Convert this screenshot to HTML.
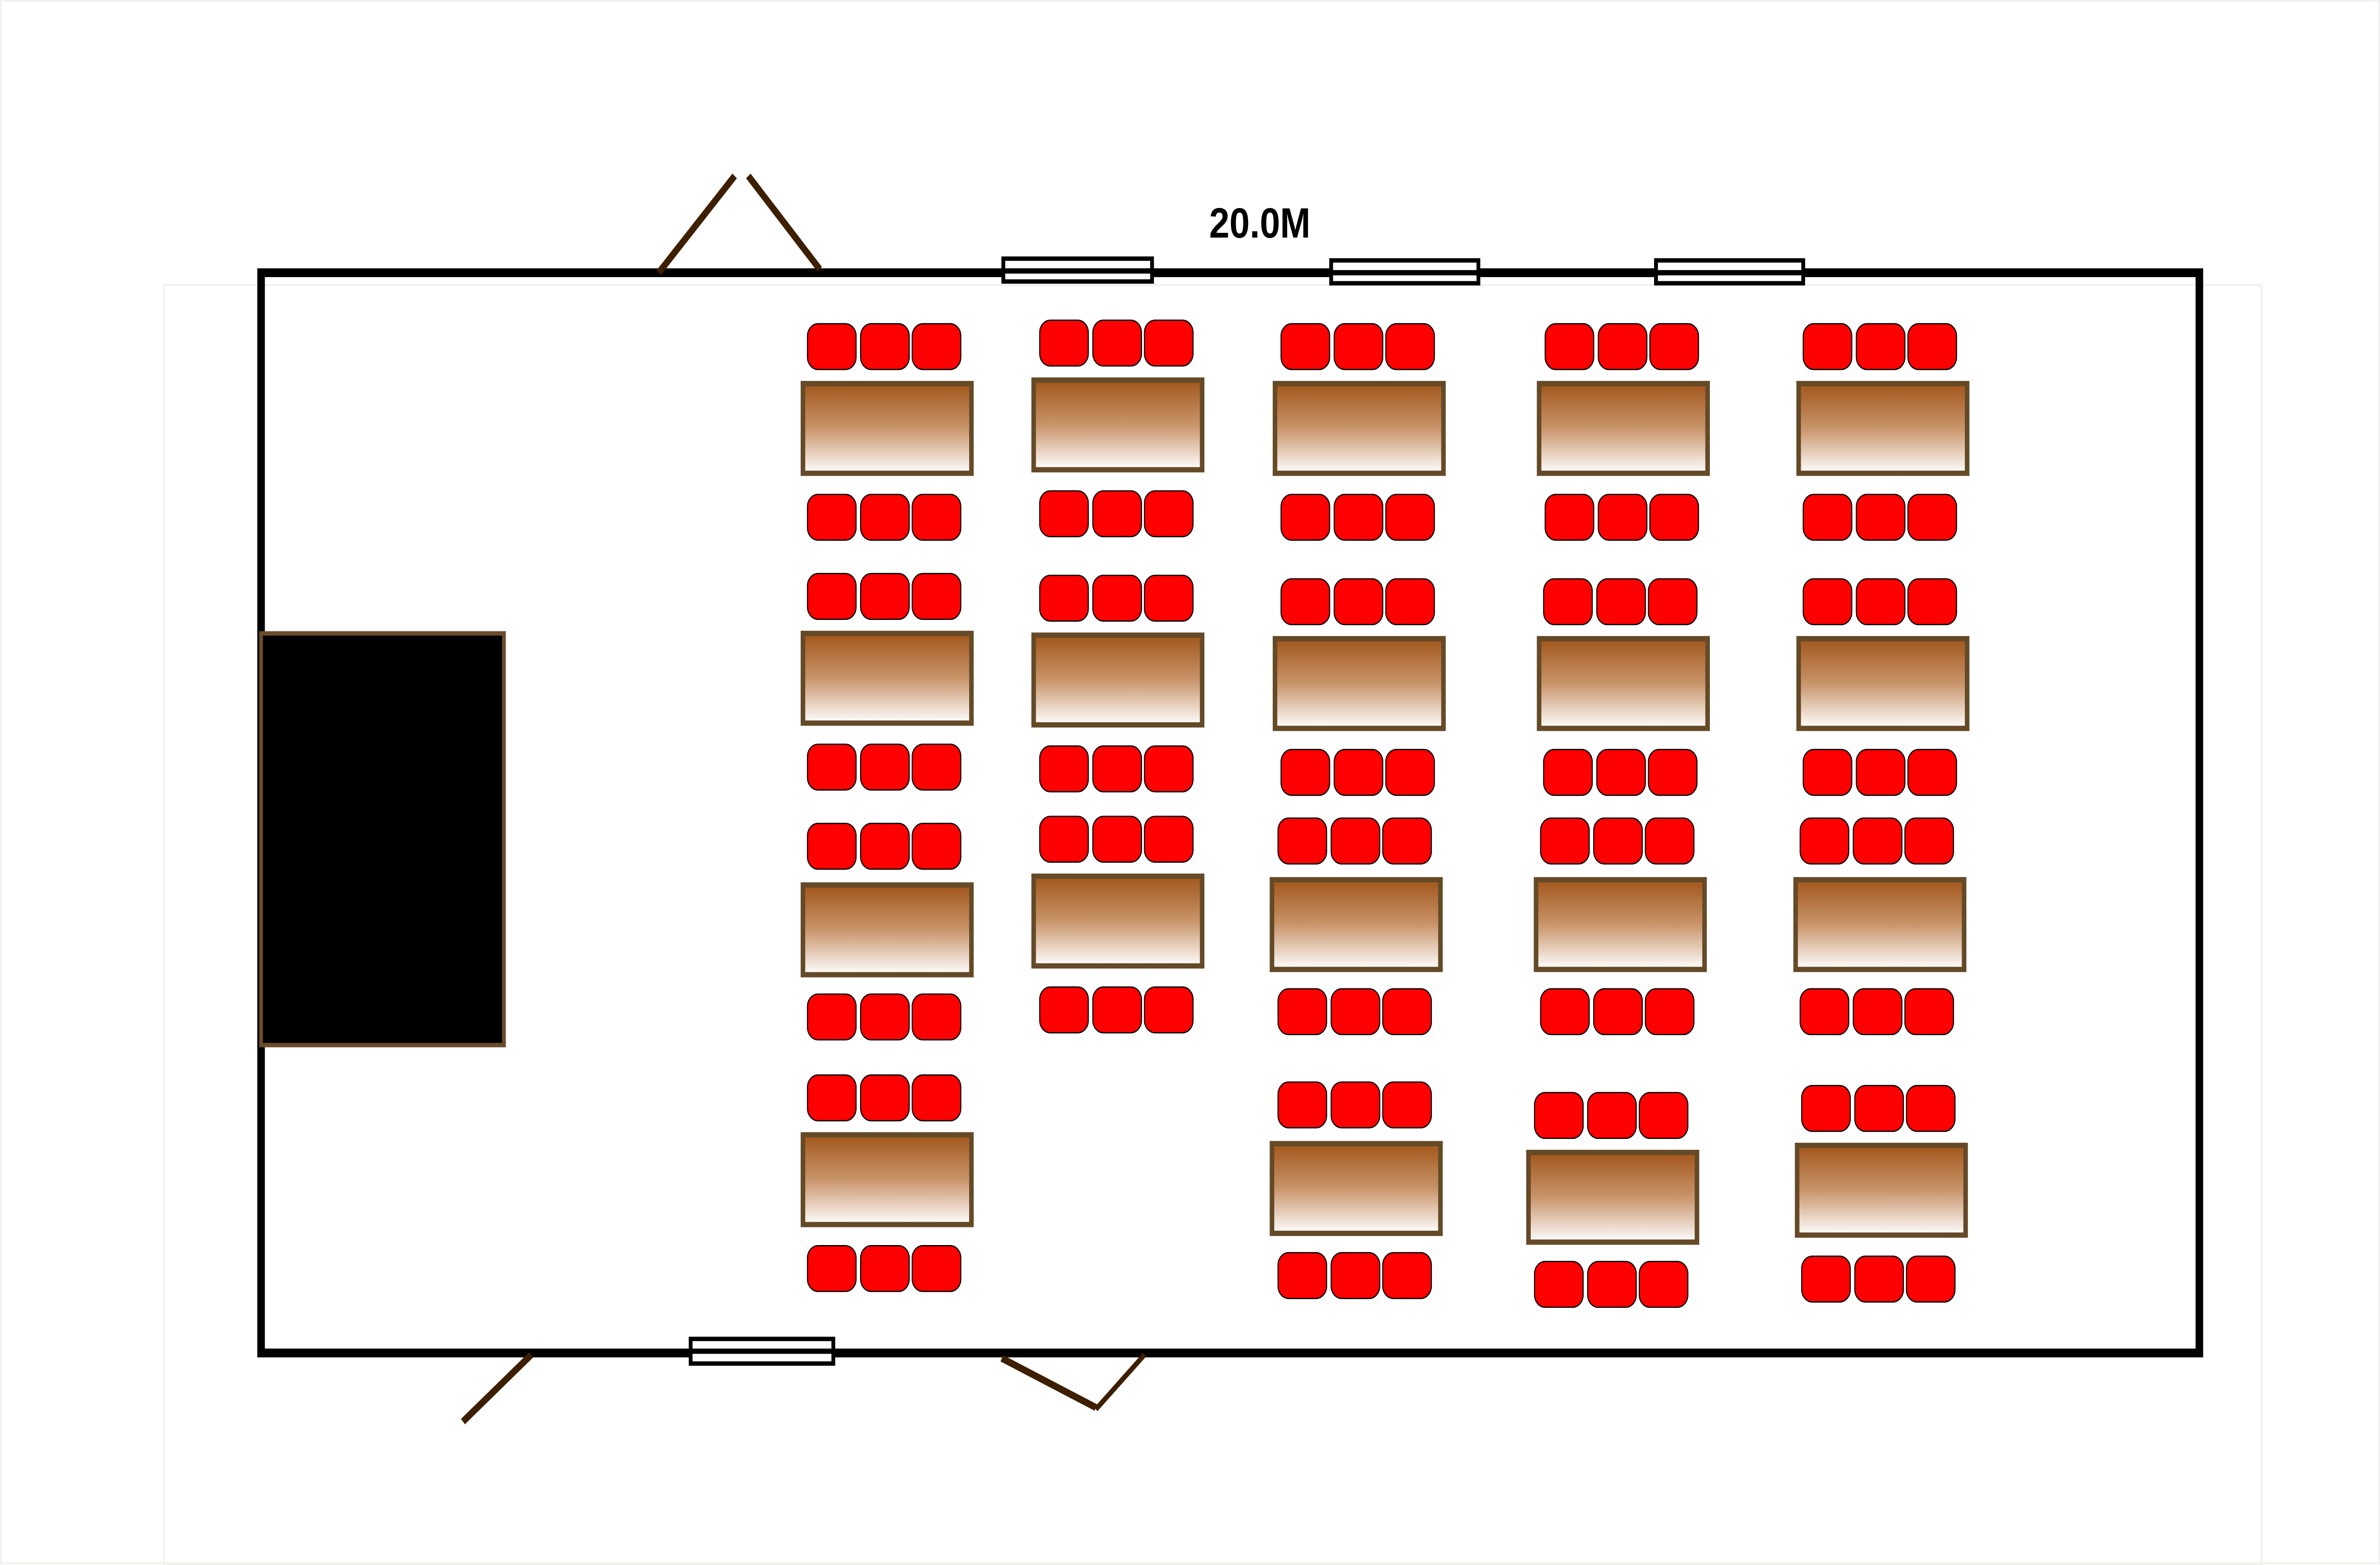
<!DOCTYPE html>
<html><head><meta charset="utf-8"><style>html,body{margin:0;padding:0;background:#fff;overflow:hidden;width:100vw;height:100vh}svg{display:block;width:100vw;height:100vh}</style></head>
<body>
<svg viewBox="0 0 1568 889.5" preserveAspectRatio="none" xmlns="http://www.w3.org/2000/svg">
<defs>
<linearGradient id="g" x1="0" y1="0" x2="0" y2="1">
<stop offset="0" stop-color="#a2561a"/><stop offset="0.5" stop-color="#c8946a"/><stop offset="1" stop-color="#ffffff"/>
</linearGradient>
<g id="c3">
<rect x="0" y="0" width="32" height="26" rx="7" fill="#ff0000" stroke="#000" stroke-width="0.7"/>
<rect x="35" y="0" width="32" height="26" rx="7" fill="#ff0000" stroke="#000" stroke-width="0.7"/>
<rect x="69" y="0" width="32" height="26" rx="7" fill="#ff0000" stroke="#000" stroke-width="0.7"/>
</g>
<rect id="t" x="0" y="0" width="111" height="51" fill="url(#g)" stroke="#654a28" stroke-width="3"/>
</defs>
<rect x="0" y="0" width="1568" height="889.5" fill="#fff"/>
<rect x="0.5" y="0.5" width="1567" height="888" fill="none" stroke="#f2f0ec" stroke-width="1"/>
<rect x="108" y="162" width="1382" height="727" fill="none" stroke="#f2f0ec" stroke-width="1"/>

<rect x="172" y="155" width="1277" height="614" fill="none" stroke="#000" stroke-width="5"/>
<text x="830" y="135" font-family="Liberation Sans, sans-serif" font-weight="bold" font-size="24" text-anchor="middle">20.0M</text>

<g fill="#fff" stroke="#000" stroke-width="2.5">
<rect x="661" y="147" width="98" height="13"/>
<rect x="877" y="148" width="97" height="13"/>
<rect x="1091" y="148" width="97" height="13"/>
<rect x="455" y="761" width="94" height="14"/>
</g>
<g stroke="#000" stroke-width="3">
<line x1="661" y1="154" x2="759" y2="154"/>
<line x1="877" y1="155" x2="974" y2="155"/>
<line x1="1091" y1="155" x2="1188" y2="155"/>
<line x1="455" y1="768" x2="549" y2="768"/>
</g>

<g stroke="#3d1f00" stroke-width="4" stroke-linecap="butt">
<line x1="434" y1="155" x2="484" y2="100"/>
<line x1="493" y1="100" x2="540" y2="153"/>
<line x1="350" y1="770" x2="305" y2="808"/>
<line x1="660" y1="772" x2="722" y2="800"/>
<line x1="722" y1="801" x2="754" y2="770" stroke-width="3"/>
</g>

<rect x="172" y="360" width="160" height="234" fill="#000" stroke="#6b4c2a" stroke-width="2.5"/>

<use href="#c3" x="532" y="184"/><use href="#t" x="529" y="218"/><use href="#c3" x="532" y="281"/>
<use href="#c3" x="532" y="326"/><use href="#t" x="529" y="360"/><use href="#c3" x="532" y="423"/>
<use href="#c3" x="532" y="468"/><use href="#t" x="529" y="503"/><use href="#c3" x="532" y="565"/>
<use href="#c3" x="532" y="611"/><use href="#t" x="529" y="645"/><use href="#c3" x="532" y="708"/>
<use href="#c3" x="685" y="182"/><use href="#t" x="681" y="216"/><use href="#c3" x="685" y="279"/>
<use href="#c3" x="685" y="327"/><use href="#t" x="681" y="361"/><use href="#c3" x="685" y="424"/>
<use href="#c3" x="685" y="464"/><use href="#t" x="681" y="498"/><use href="#c3" x="685" y="561"/>
<use href="#c3" x="844" y="184"/><use href="#t" x="840" y="218"/><use href="#c3" x="844" y="281"/>
<use href="#c3" x="844" y="329"/><use href="#t" x="840" y="363"/><use href="#c3" x="844" y="426"/>
<use href="#c3" x="842" y="465"/><use href="#t" x="838" y="500"/><use href="#c3" x="842" y="562"/>
<use href="#c3" x="842" y="615"/><use href="#t" x="838" y="650"/><use href="#c3" x="842" y="712"/>
<use href="#c3" x="1018" y="184"/><use href="#t" x="1014" y="218"/><use href="#c3" x="1018" y="281"/>
<use href="#c3" x="1017" y="329"/><use href="#t" x="1014" y="363"/><use href="#c3" x="1017" y="426"/>
<use href="#c3" x="1015" y="465"/><use href="#t" x="1012" y="500"/><use href="#c3" x="1015" y="562"/>
<use href="#c3" x="1011" y="621"/><use href="#t" x="1007" y="655"/><use href="#c3" x="1011" y="717"/>
<use href="#c3" x="1188" y="184"/><use href="#t" x="1185" y="218"/><use href="#c3" x="1188" y="281"/>
<use href="#c3" x="1188" y="329"/><use href="#t" x="1185" y="363"/><use href="#c3" x="1188" y="426"/>
<use href="#c3" x="1186" y="465"/><use href="#t" x="1183" y="500"/><use href="#c3" x="1186" y="562"/>
<use href="#c3" x="1187" y="617"/><use href="#t" x="1184" y="651"/><use href="#c3" x="1187" y="714"/>
</svg>
</body></html>
